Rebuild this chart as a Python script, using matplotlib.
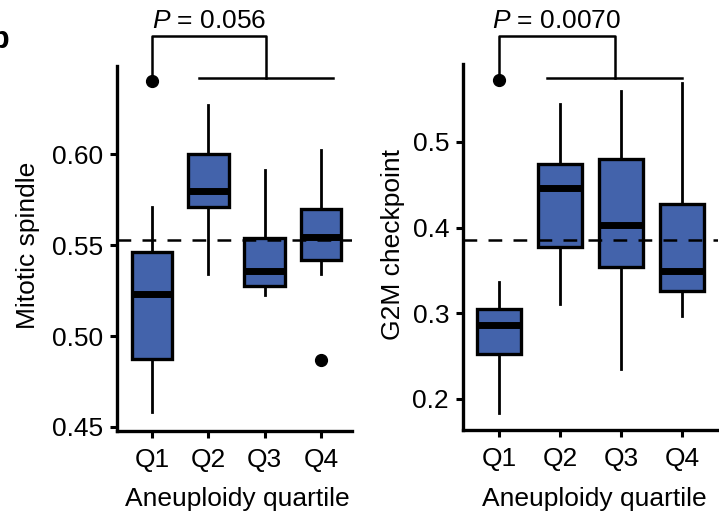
import matplotlib
matplotlib.use('Agg')
import matplotlib.pyplot as plt

plt.rcParams['font.family'] = ['Liberation Sans', 'DejaVu Sans']
plt.rcParams['mathtext.fontset'] = 'custom'
plt.rcParams['mathtext.rm'] = 'Liberation Sans'
plt.rcParams['mathtext.it'] = 'Liberation Sans:italic'

quartiles = ['Q1', 'Q2', 'Q3', 'Q4']

# Mitotic spindle score per aneuploidy quartile
ms_whislo = [0.458, 0.534, 0.5225, 0.534]
ms_q1 = [0.4874, 0.5709, 0.5275, 0.5418]
ms_med = [0.5231, 0.5797, 0.5357, 0.5544]
ms_q3 = [0.5462, 0.600, 0.5538, 0.5698]
ms_whishi = [0.5709, 0.627, 0.5912, 0.602]
ms_fliers = [[0.640], [], [], [0.4868]]
ms_mean = 0.5527
ms_p = '$P$ = 0.056'

# G2M checkpoint score per aneuploidy quartile
g2m_whislo = [0.1838, 0.311, 0.2351, 0.297]
g2m_q1 = [0.2526, 0.3775, 0.354, 0.3261]
g2m_med = [0.2865, 0.4463, 0.4032, 0.3495]
g2m_q3 = [0.3051, 0.4743, 0.4802, 0.4277]
g2m_whishi = [0.3366, 0.5443, 0.5595, 0.5688]
g2m_fliers = [[0.5723], [], [], []]
g2m_mean = 0.3856
g2m_p = '$P$ = 0.0070'

BOX = '#4363ab'
FS = 19


def stats(lo, q1, med, q3, hi, fl):
    return [dict(whislo=a, q1=b, med=c, q3=d, whishi=e, fliers=f, label=l)
            for a, b, c, d, e, f, l in zip(lo, q1, med, q3, hi, fl, quartiles)]


def panel(ax, st, mean, ylim, xlim, yticks, ylabels, bracket, ptext):
    ax.bxp(st, positions=[1, 2, 3, 4], widths=0.72, showcaps=False,
           patch_artist=True,
           boxprops=dict(facecolor=BOX, edgecolor='black', linewidth=2.4),
           medianprops=dict(color='black', linewidth=5, solid_capstyle='butt'),
           whiskerprops=dict(color='black', linewidth=2.0),
           flierprops=dict(marker='o', markerfacecolor='black',
                           markeredgecolor='black', markersize=8.5))
    ax.axhline(mean, color='black', linewidth=1.8, dashes=(5.5, 4.5), zorder=5)
    ax.set_xlim(*xlim)
    ax.set_ylim(*ylim)
    ax.set_yticks(yticks)
    ax.set_yticklabels(ylabels)
    ax.set_xticks([1, 2, 3, 4])
    ax.set_xticklabels(quartiles)
    for s in ['top', 'right']:
        ax.spines[s].set_visible(False)
    for s in ['left', 'bottom']:
        ax.spines[s].set_linewidth(2.4)
    ax.tick_params(direction='out', length=5, width=2.2, labelsize=FS)
    ax.tick_params(axis='y', pad=5)
    ax.tick_params(axis='x', pad=7)

    # bracket: Q1 vs Q2-Q4
    xl, xr, hl, hr, ylo, yhi = bracket
    kw = dict(color='black', linewidth=1.8, clip_on=False)
    ax.plot([xl, xl, xr, xr], [ylo, yhi, yhi, ylo], **kw)
    ax.plot([hl, hr], [ylo, ylo], **kw)
    ax.annotate(ptext, xy=((xl + xr) / 2, yhi), xytext=(0, 6),
                textcoords='offset points', ha='center', va='baseline',
                fontsize=FS, annotation_clip=False)


fig = plt.figure(figsize=(7.19, 5.13), dpi=100)

ax1 = fig.add_axes([117 / 719, 1 - 431 / 513, 235 / 719, 365 / 513])
panel(ax1, stats(ms_whislo, ms_q1, ms_med, ms_q3, ms_whishi, ms_fliers),
      ms_mean, (0.4478, 0.6484), (0.379, 4.55),
      [0.45, 0.50, 0.55, 0.60], ['0.45', '0.50', '0.55', '0.60'],
      (1.0, 3.03, 1.84, 4.21, 0.6418, 0.6648), ms_p)

ax2 = fig.add_axes([463 / 719, 1 - 430 / 513, 255 / 719, 366 / 513])
panel(ax2, stats(g2m_whislo, g2m_q1, g2m_med, g2m_q3, g2m_whishi, g2m_fliers),
      g2m_mean, (0.1638, 0.591), (0.41, 4.59),
      [0.2, 0.3, 0.4, 0.5], ['0.2', '0.3', '0.4', '0.5'],
      (1.0, 2.90, 1.79, 4.0, 0.5747, 0.6237), g2m_p)

fig.text(28 / 719, 1 - 245 / 513, 'Mitotic spindle', rotation=90,
         ha='center', va='center', fontsize=FS)
fig.text(393 / 719, 1 - 245 / 513, 'G2M checkpoint', rotation=90,
         ha='center', va='center', fontsize=FS)
fig.text(237 / 719, 1 - 499 / 513, 'Aneuploidy quartile',
         ha='center', va='center', fontsize=FS)
fig.text(594 / 719, 1 - 499 / 513, 'Aneuploidy quartile',
         ha='center', va='center', fontsize=FS)
fig.text(10 / 719, 1 - 48 / 513, 'b', ha='right', va='baseline',
         fontsize=22, fontweight='bold')

fig.savefig('out.png', dpi=100)
